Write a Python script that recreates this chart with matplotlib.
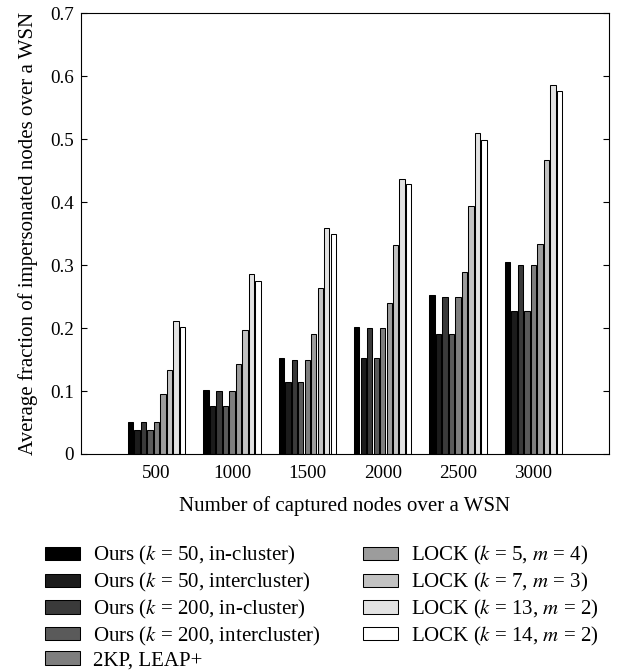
import numpy as np
import matplotlib.pyplot as plt

plt.rcParams['font.family'] = ['Liberation Serif', 'DejaVu Serif']
plt.rcParams['mathtext.fontset'] = 'stix'

nodes = [500, 1000, 1500, 2000, 2500, 3000]

series_names = [
    r'Ours ($k$ = 50, in-cluster)',
    r'Ours ($k$ = 50, intercluster)',
    r'Ours ($k$ = 200, in-cluster)',
    r'Ours ($k$ = 200, intercluster)',
    '2KP, LEAP+',
    r'LOCK ($k$ = 5, $m$ = 4)',
    r'LOCK ($k$ = 7, $m$ = 3)',
    r'LOCK ($k$ = 13, $m$ = 2)',
    r'LOCK ($k$ = 14, $m$ = 2)',
]

ours_k50_in = [0.051, 0.102, 0.152, 0.202, 0.252, 0.304]
ours_k50_inter = [0.038, 0.076, 0.114, 0.152, 0.190, 0.227]
ours_k200_in = [0.050, 0.100, 0.150, 0.200, 0.250, 0.300]
ours_k200_inter = [0.038, 0.076, 0.114, 0.152, 0.190, 0.227]
leap = [0.050, 0.100, 0.150, 0.200, 0.250, 0.300]
lock_5_4 = [0.095, 0.143, 0.190, 0.239, 0.289, 0.333]
lock_7_3 = [0.133, 0.197, 0.264, 0.332, 0.393, 0.466]
lock_13_2 = [0.211, 0.285, 0.358, 0.437, 0.510, 0.586]
lock_14_2 = [0.201, 0.275, 0.349, 0.428, 0.498, 0.577]

series = [ours_k50_in, ours_k50_inter, ours_k200_in, ours_k200_inter, leap,
          lock_5_4, lock_7_3, lock_13_2, lock_14_2]
colors = ['#000000', '#1c1c1c', '#3a3a3a', '#5a5a5a', '#7e7e7e',
          '#9c9c9c', '#c2c2c2', '#e2e2e2', '#ffffff']

fig = plt.figure(figsize=(6.29, 6.71), dpi=100)
ax = fig.add_axes([0.129, 0.3234, 0.839, 0.6572])

pitch = 43
x = np.array(nodes)
for i, (vals, c, name) in enumerate(zip(series, colors, series_names)):
    ax.bar(x + (i - 4) * pitch, vals, width=pitch * 0.82, color=c,
           edgecolor='black', linewidth=0.75, label=name)

ax.set_xlim(0, 3500)
ax.set_ylim(0, 0.7)
ax.set_xticks(nodes)
ax.set_xticklabels([str(n) for n in nodes])
ax.set_yticks(np.arange(0, 0.71, 0.1))
ax.set_yticklabels(['0', '0.1', '0.2', '0.3', '0.4', '0.5', '0.6', '0.7'])
ax.tick_params(axis='x', length=0, pad=8, labelsize=13.8)
ax.tick_params(axis='y', direction='in', right=True, length=4.5, pad=5,
               labelsize=13.8)
ax.set_xlabel('Number of captured nodes over a WSN', fontsize=15, labelpad=10)
ax.set_ylabel('Average fraction of impersonated nodes over a WSN',
              fontsize=15, labelpad=9)

fig.legend(loc='upper left', bbox_to_anchor=(0.0715, 0.189), ncol=2,
           frameon=False, fontsize=15, handlelength=1.68, handleheight=0.6,
           labelspacing=0.18, columnspacing=2.0, handletextpad=0.63,
           borderpad=0, borderaxespad=0)

fig.savefig('out.png', dpi=100)
